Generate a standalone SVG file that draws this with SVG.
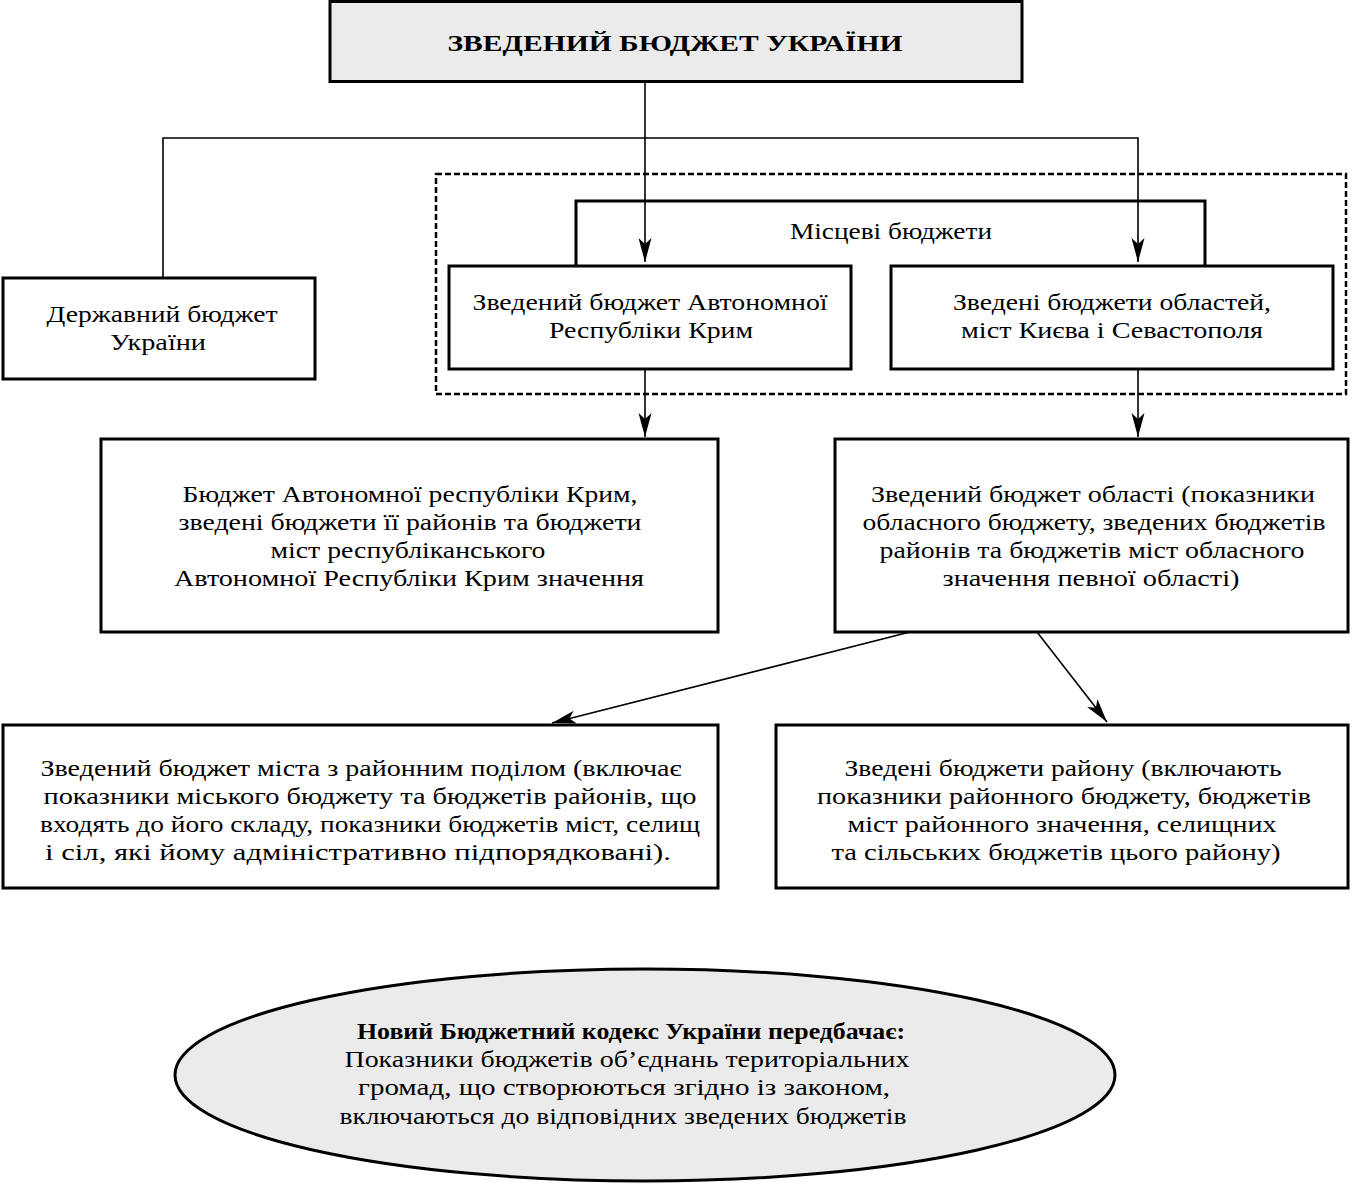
<svg xmlns="http://www.w3.org/2000/svg" width="1353" height="1197" viewBox="0 0 1353 1197">
<style>
.box{fill:#fff;stroke:#000;stroke-width:3}
.grey{fill:#ebebeb;stroke:#000;stroke-width:3}
.t{font-family:"Liberation Serif","DejaVu Serif",serif;font-size:24px;fill:#000;text-anchor:middle}
.b{font-weight:bold}
.c{fill:none;stroke:#000;stroke-width:1.6}
</style>
<defs>
<marker id="ah" markerUnits="userSpaceOnUse" markerWidth="26" markerHeight="14" refX="24" refY="6.5" orient="auto">
<path d="M0,0 L24,6.5 L0,13 L6,6.5 z" fill="#000"/>
</marker>
</defs>
<rect width="1353" height="1197" fill="#fff"/>

<g id="zvedenyi">
<rect class="grey" x="330" y="1.5" width="692" height="80"/>
<text class="t b" x="675" y="51" font-size="28" textLength="455" lengthAdjust="spacingAndGlyphs">ЗВЕДЕНИЙ БЮДЖЕТ УКРАЇНИ</text>
</g>

<g id="mistsevi-group">
<rect x="436" y="174" width="910" height="220" fill="none" stroke="#000" stroke-width="2.5" stroke-dasharray="6 3"/>
</g>

<g id="mistsevi">
<path d="M576,266 V201 H1205 V266" fill="#fff" stroke="#000" stroke-width="3"/>
<text class="t" x="891" y="239" textLength="202" lengthAdjust="spacingAndGlyphs">Місцеві бюджети</text>
</g>

<g id="derzhavnyi">
<rect class="box" x="3" y="278" width="312" height="101"/>
<text class="t" x="162" y="322" textLength="231" lengthAdjust="spacingAndGlyphs">Державний бюджет</text>
<text class="t" x="158" y="350" textLength="96" lengthAdjust="spacingAndGlyphs">України</text>
</g>

<g id="ark">
<rect class="box" x="449" y="266" width="402" height="103"/>
<text class="t" x="650" y="310" textLength="355" lengthAdjust="spacingAndGlyphs">Зведений бюджет Автономної</text>
<text class="t" x="651" y="338" textLength="204" lengthAdjust="spacingAndGlyphs">Республіки Крим</text>
</g>

<g id="oblasti">
<rect class="box" x="891" y="266" width="442" height="103"/>
<text class="t" x="1112" y="310" textLength="318" lengthAdjust="spacingAndGlyphs">Зведені бюджети областей,</text>
<text class="t" x="1112" y="338" textLength="302" lengthAdjust="spacingAndGlyphs">міст Києва і Севастополя</text>
</g>

<g id="ark-detail">
<rect class="box" x="101" y="439" width="617" height="193"/>
<text class="t" x="410" y="502" textLength="455" lengthAdjust="spacingAndGlyphs">Бюджет Автономної республіки Крим,</text>
<text class="t" x="410" y="530" textLength="463" lengthAdjust="spacingAndGlyphs">зведені бюджети її районів та бюджети</text>
<text class="t" x="408" y="558" textLength="275" lengthAdjust="spacingAndGlyphs">міст республіканського</text>
<text class="t" x="409" y="586" textLength="470" lengthAdjust="spacingAndGlyphs">Автономної Республіки Крим значення</text>
</g>

<g id="oblast-detail">
<rect class="box" x="835" y="439" width="513" height="193"/>
<text class="t" x="1093" y="502" textLength="444" lengthAdjust="spacingAndGlyphs">Зведений бюджет області (показники</text>
<text class="t" x="1094" y="530" textLength="463" lengthAdjust="spacingAndGlyphs">обласного бюджету, зведених бюджетів</text>
<text class="t" x="1092" y="558" textLength="425" lengthAdjust="spacingAndGlyphs">районів та бюджетів міст обласного</text>
<text class="t" x="1091" y="586" textLength="297" lengthAdjust="spacingAndGlyphs">значення певної області)</text>
</g>

<g id="misto">
<rect class="box" x="3" y="725" width="715" height="163"/>
<text class="t" x="361" y="776" textLength="641" lengthAdjust="spacingAndGlyphs">Зведений бюджет міста з районним поділом (включає</text>
<text class="t" x="370" y="804" textLength="653" lengthAdjust="spacingAndGlyphs">показники міського бюджету та бюджетів районів, що</text>
<text class="t" x="370" y="832" textLength="660" lengthAdjust="spacingAndGlyphs">входять до його складу, показники бюджетів міст, селищ</text>
<text class="t" x="358" y="860" textLength="626" lengthAdjust="spacingAndGlyphs">і сіл, які йому адміністративно підпорядковані).</text>
</g>

<g id="raion">
<rect class="box" x="776" y="725" width="572" height="163"/>
<text class="t" x="1063" y="776" textLength="437" lengthAdjust="spacingAndGlyphs">Зведені бюджети району (включають</text>
<text class="t" x="1064" y="804" textLength="494" lengthAdjust="spacingAndGlyphs">показники районного бюджету, бюджетів</text>
<text class="t" x="1062" y="832" textLength="429" lengthAdjust="spacingAndGlyphs">міст районного значення, селищних</text>
<text class="t" x="1056" y="860" textLength="449" lengthAdjust="spacingAndGlyphs">та сільських бюджетів цього району)</text>
</g>

<g id="kodeks">
<ellipse cx="645" cy="1075" rx="470" ry="106" fill="#ebebeb" stroke="#000" stroke-width="3"/>
<text class="t b" x="631" y="1039" textLength="548" lengthAdjust="spacingAndGlyphs">Новий Бюджетний кодекс України передбачає:</text>
<text class="t" x="627" y="1067" textLength="565" lengthAdjust="spacingAndGlyphs">Показники бюджетів об’єднань територіальних</text>
<text class="t" x="624" y="1095" textLength="532" lengthAdjust="spacingAndGlyphs">громад, що створюються згідно із законом,</text>
<text class="t" x="623" y="1124" textLength="567" lengthAdjust="spacingAndGlyphs">включаються до відповідних зведених бюджетів</text>
</g>

<g id="connectors">
<path class="c" d="M645,82 V262" marker-end="url(#ah)"/>
<path class="c" d="M163,277 V138 H1138 V262" marker-end="url(#ah)"/>
<path class="c" d="M645,369 V437" marker-end="url(#ah)"/>
<path class="c" d="M1138,369 V437" marker-end="url(#ah)"/>
<path class="c" d="M910,632 L552,723" marker-end="url(#ah)"/>
<path class="c" d="M1037,632 L1107,722" marker-end="url(#ah)"/>
</g>
</svg>
